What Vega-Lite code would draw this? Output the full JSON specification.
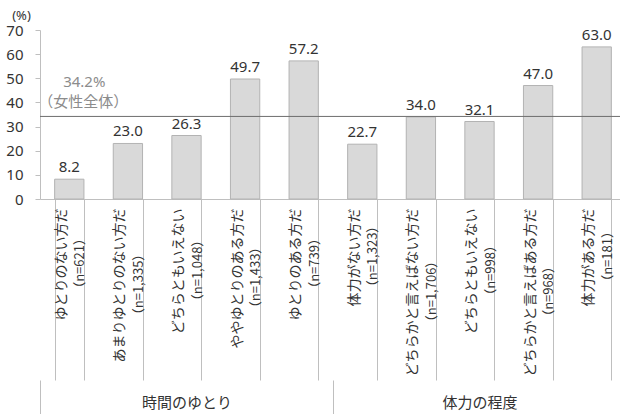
{
  "$schema": "https://vega.github.io/schema/vega-lite/v6.json",
  "width": 580,
  "height": 169,
  "autosize": {"type": "none"},
  "padding": {"left": 40, "top": 30, "right": 0, "bottom": 215},
  "background": "white",
  "config": {
    "view": {"stroke": null},
    "font": "Noto Sans CJK JP",
    "axis": {"labelOverlap": false},
    "axisY": {"labelOverlap": false, "tickCount": 8, "labelSeparation": 0}
  },
  "datasets": {
    "bars": [
      {"cat": "ゆとりのない方だ（n=621）", "name": "ゆとりのない方だ", "n": "（n=621）", "group": "時間のゆとり", "value": 8.2},
      {"cat": "あまりゆとりのない方だ（n=1,335）", "name": "あまりゆとりのない方だ", "n": "（n=1,335）", "group": "時間のゆとり", "value": 23.0},
      {"cat": "どちらともいえない（n=1,048）", "name": "どちらともいえない", "n": "（n=1,048）", "group": "時間のゆとり", "value": 26.3},
      {"cat": "ややゆとりのある方だ（n=1,433）", "name": "ややゆとりのある方だ", "n": "（n=1,433）", "group": "時間のゆとり", "value": 49.7},
      {"cat": "ゆとりのある方だ（n=739）", "name": "ゆとりのある方だ", "n": "（n=739）", "group": "時間のゆとり", "value": 57.2},
      {"cat": "体力がない方だ（n=1,323）", "name": "体力がない方だ", "n": "（n=1,323）", "group": "体力の程度", "value": 22.7},
      {"cat": "どちらかと言えばない方だ（n=1,706）", "name": "どちらかと言えばない方だ", "n": "（n=1,706）", "group": "体力の程度", "value": 34.0},
      {"cat": "どちらともいえない（n=998）", "name": "どちらともいえない", "n": "（n=998）", "group": "体力の程度", "value": 32.1},
      {"cat": "どちらかと言えばある方だ（n=968）", "name": "どちらかと言えばある方だ", "n": "（n=968）", "group": "体力の程度", "value": 47.0},
      {"cat": "体力がある方だ（n=181）", "name": "体力がある方だ", "n": "（n=181）", "group": "体力の程度", "value": 63.0}
    ],
    "groups": [{"group": "時間のゆとり"}, {"group": "体力の程度"}],
    "ref": [{"value": 34.2, "label1": "34.2%", "label2": "（女性全体）"}]
  },
  "layer": [
    {
      "data": {"name": "bars"},
      "mark": {"type": "bar", "fill": "#d9d9d9", "stroke": "#b3b3b3", "strokeWidth": 1},
      "encoding": {
        "x": {
          "field": "cat", "type": "nominal", "sort": null,
          "scale": {"range": [0, 586], "paddingInner": 0.5, "paddingOuter": 0.25},
          "axis": {
            "title": null,
            "domainColor": "#bfbfbf",
            "tickColor": "#bfbfbf",
            "tickBand": "extent",
            "tickSize": 181,
            "labelAngle": 270,
            "labelAlign": "right",
            "labelBaseline": "middle",
            "labelPadding": -172,
            "labelOffset": -8,
            "labelFontSize": 14,
            "labelColor": "#333333",
            "labelFont": "Noto Sans CJK JP",
            "labelExpr": "split(datum.label, '（')[0]",
            "labelOverlap": false,
            "labelBound": false,
            "labelFlush": false,
            "labelLimit": 0
          }
        },
        "y": {
          "field": "value", "type": "quantitative",
          "scale": {"domain": [0, 70], "nice": false},
          "axis": {
            "title": "(%)",
            "titleAngle": 0,
            "titleX": -19,
            "titleY": -15,
            "titleAlign": "center",
            "titleBaseline": "middle",
            "titleFontSize": 13,
            "titleFontWeight": "normal",
            "titleColor": "#333333",
            "titleFont": "Noto Sans",
            "values": [0, 10, 20, 30, 40, 50, 60, 70],
            "tickCount": 8,
            "labelOverlap": false,
            "ticks": true,
            "tickSize": 5,
            "tickColor": "#bfbfbf",
            "grid": false,
            "labelPadding": 12,
            "labelFontSize": 15,
            "labelColor": "#333333",
            "labelFont": "Noto Sans",
            "domainColor": "#bfbfbf"
          }
        }
      }
    },
    {
      "data": {"name": "bars"},
      "mark": {"type": "text", "baseline": "alphabetic", "dy": -7, "fontSize": 15, "color": "#333333", "font": "Noto Sans"},
      "encoding": {
        "x": {"field": "cat", "type": "nominal", "sort": null, "scale": {"range": [0, 586], "paddingInner": 0.5, "paddingOuter": 0.25}, "axis": null},
        "y": {"field": "value", "type": "quantitative"},
        "text": {"field": "value", "type": "quantitative", "format": ".1f"}
      }
    },
    {
      "data": {"name": "bars"},
      "mark": {"type": "text", "angle": 270, "align": "center", "baseline": "middle", "dy": 11, "dx": {"expr": "-7 * length(datum.name)"}, "limit": 0, "fontSize": 13, "color": "#333333", "font": "Noto Sans CJK JP"},
      "encoding": {
        "x": {"field": "cat", "type": "nominal", "sort": null, "scale": {"range": [0, 586], "paddingInner": 0.5, "paddingOuter": 0.25}, "axis": null},
        "y": {"datum": -3.5, "type": "quantitative"},
        "text": {"field": "n", "type": "nominal"}
      }
    },
    {
      "data": {"name": "ref"},
      "mark": {"type": "rule", "color": "#6e6e6e", "strokeWidth": 1},
      "encoding": {
        "y": {"field": "value", "type": "quantitative"}
      }
    },
    {
      "data": {"name": "ref"},
      "mark": {"type": "text", "baseline": "middle", "align": "center", "dx": 15, "dy": -34, "fontSize": 15, "color": "#8c8c8c", "font": "Noto Sans"},
      "encoding": {
        "x": {"datum": "ゆとりのない方だ（n=621）", "type": "nominal", "scale": {"domain": ["ゆとりのない方だ（n=621）", "あまりゆとりのない方だ（n=1,335）", "どちらともいえない（n=1,048）", "ややゆとりのある方だ（n=1,433）", "ゆとりのある方だ（n=739）", "体力がない方だ（n=1,323）", "どちらかと言えばない方だ（n=1,706）", "どちらともいえない（n=998）", "どちらかと言えばある方だ（n=968）", "体力がある方だ（n=181）"], "range": [0, 586], "paddingInner": 0.5, "paddingOuter": 0.25}, "axis": null},
        "y": {"field": "value", "type": "quantitative"},
        "text": {"field": "label1", "type": "nominal"}
      }
    },
    {
      "data": {"name": "ref"},
      "mark": {"type": "text", "baseline": "middle", "align": "center", "dx": 14, "dy": -14, "fontSize": 15, "color": "#8c8c8c", "font": "Noto Sans CJK JP"},
      "encoding": {
        "x": {"datum": "ゆとりのない方だ（n=621）", "type": "nominal", "scale": {"domain": ["ゆとりのない方だ（n=621）", "あまりゆとりのない方だ（n=1,335）", "どちらともいえない（n=1,048）", "ややゆとりのある方だ（n=1,433）", "ゆとりのある方だ（n=739）", "体力がない方だ（n=1,323）", "どちらかと言えばない方だ（n=1,706）", "どちらともいえない（n=998）", "どちらかと言えばある方だ（n=968）", "体力がある方だ（n=181）"], "range": [0, 586], "paddingInner": 0.5, "paddingOuter": 0.25}, "axis": null},
        "y": {"field": "value", "type": "quantitative"},
        "text": {"field": "label2", "type": "nominal"}
      }
    },
    {
      "data": {"name": "groups"},
      "mark": {"type": "rule", "opacity": 0},
      "encoding": {
        "x": {
          "field": "group", "type": "nominal", "sort": null,
          "scale": {"range": [0, 586], "paddingInner": 0, "paddingOuter": 0},
          "axis": {
            "orient": "bottom",
            "offset": 181,
            "title": null,
            "domain": false,
            "tickBand": "extent",
            "tickSize": 40,
            "tickColor": "#bfbfbf",
            "labelAngle": 0,
            "labelAlign": "center",
            "labelBaseline": "middle",
            "labelPadding": -18,
            "labelFontSize": 15,
            "labelColor": "#333333",
            "labelFont": "Noto Sans CJK JP"
          }
        }
      }
    }
  ],
  "resolve": {"scale": {"x": "independent"}, "axis": {"x": "independent"}}
}
